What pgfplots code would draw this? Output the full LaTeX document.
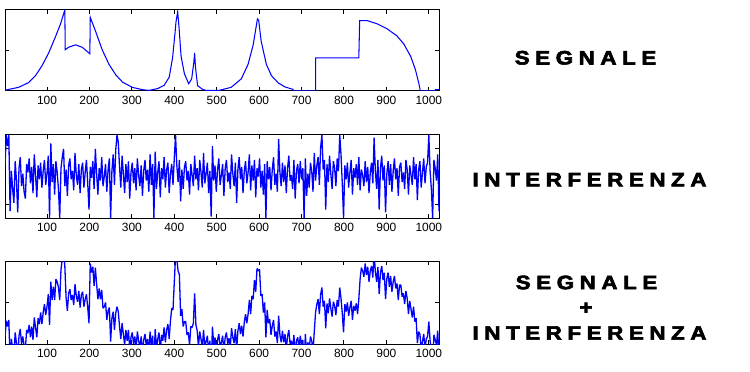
\documentclass[border=0pt]{standalone}
\usepackage{fontspec}
\setmainfont{Liberation Sans}
\newfontfamily\labfont{Liberation Sans}[LetterSpace=25,BoldFeatures={FakeBold=3}]
\usepackage{pgfplots}
\pgfplotsset{compat=1.18}
\pgfplotsset{
  mystyle/.style={
    width=434bp, scale only axis,
    xmin=1, xmax=1024,
    xtick={100,200,...,1000},
    tick align=inside, xtick pos=both, ytick pos=both,
    major tick length=4bp,
    axis line style={line width=1bp, black},
    tick style={line width=1bp, black},
    yticklabels={},
    ticklabel style={font=\fontsize{12}{12}\selectfont},
    xticklabel style={yshift=-1.5bp},
    /pgf/number format/assume math mode=true,
    /pgf/number format/1000 sep={},
  },
  sig/.style={blue, line width=1.05bp},
  noi/.style={blue, line width=1.3bp, line join=bevel},
}
\begin{document}
\begin{tikzpicture}[x=1bp,y=1bp]
\path[use as bounding box] (0,0) rectangle (750,371);
% Panel 1: SEGNALE
\begin{axis}[mystyle, at={(5bp,280bp)}, anchor=south west, height=81bp, ymin=0, ymax=1, ytick={0.5}]
\addplot[sig] coordinates {(1,0.01)(33,0.045)(57,0.105)(73,0.19)(88,0.31)(104,0.47)(120,0.67)(132,0.83)(142,1.0)
(143,0.51)(151,0.54)(167,0.57)(183,0.54)(201,0.46)(202,0.91)(215,0.73)(230,0.51)(246,0.33)(262,0.20)(278,0.11)(301,0.045)(325,0.016)(341,0.008)(361,0.03)(376,0.07)(388,0.17)(396,0.41)(402,0.73)(404,0.85)(408,0.98)(411,0.8)(416,0.43)(424,0.21)(434,0.09)(441,0.15)(446,0.35)(448,0.47)(450,0.29)(455,0.065)(467,0.02)(474,0.008)(506,0.008)(534,0.045)(558,0.15)(574,0.33)(586,0.57)(596,0.89)(599,0.87)(605,0.61)(617,0.33)(629,0.19)(645,0.10)(661,0.05)(680,0.02)(681,0)(733,0)(733,0.41)(835,0.41)(837,0.87)(854,0.87)(878,0.83)(901,0.77)(925,0.68)(941,0.58)(957,0.43)(968,0.27)(976,0.105)(980,0)(1015,0)(1016,0.016)(1024,0.016)};
\end{axis}
% Panel 2: INTERFERENZA
\begin{axis}[mystyle, at={(5bp,153bp)}, anchor=south west, height=83bp, ymin=-3, ymax=3, ytick={-2,2}]
\addplot[noi] coordinates {
(1,0.8)(4,3.0)(7,2.2)(10,3.0)(13,-2.5)(16,0.4)(19,-0.9)(22,-1.9)(25,1.1)(28,-0.3)
(31,-2.6)(34,0.6)(37,1.4)(40,-0.7)(43,0.2)(46,-1.1)(49,-1.6)(52,0.9)(55,0.3)(58,1.3)
(61,-0.5)(64,0.7)(67,-1.2)(70,1.6)(73,0.1)(76,-1.5)(79,0.8)(82,-0.2)(85,1.0)(88,-0.8)
(91,0.4)(94,1.2)(97,-0.6)(100,0.2)(103,1.5)(106,-3.0)(109,2.4)(112,-0.4)(115,0.9)(118,-1.3)
(121,1.1)(124,0.3)(127,-0.9)(130,-3.0)(133,0.6)(136,1.4)(139,2.0)(142,-0.7)(145,0.5)(148,-1.4)
(151,0.8)(154,1.3)(157,-0.2)(160,0.4)(163,-1.0)(166,1.7)(169,0.1)(172,-0.6)(175,0.9)(178,-1.2)
(181,0.5)(184,1.0)(187,-0.8)(190,0.3)(193,1.2)(196,-0.5)(199,-2.4)(202,0.7)(205,-0.1)(208,1.1)
(211,-0.9)(214,2.0)(217,0.2)(220,-1.3)(223,0.6)(226,-0.3)(229,1.4)(232,-0.7)(235,0.0)(238,0.9)
(241,-1.1)(244,0.5)(247,1.3)(250,-3.0)(253,0.4)(256,1.6)(259,-0.6)(262,1.9)(265,3.0)(268,2.5)
(271,0.7)(274,-0.8)(277,1.5)(280,0.2)(283,-1.2)(286,0.9)(289,-0.4)(292,1.1)(295,-1.6)(298,0.3)
(301,1.0)(304,-0.5)(307,0.6)(310,-1.0)(313,1.3)(316,0.1)(319,-0.7)(322,0.8)(325,-1.4)(328,0.4)
(331,1.2)(334,-0.3)(337,0.5)(340,-1.1)(343,1.6)(346,-0.6)(349,0.9)(352,-3.0)(355,1.8)(358,-0.9)
(361,0.3)(364,1.1)(367,-1.5)(370,0.6)(373,-0.2)(376,1.4)(379,-0.8)(382,0.5)(385,1.0)(388,-1.2)
(391,0.2)(394,0.9)(397,-0.6)(400,1.3)(403,3.0)(406,0.8)(409,-0.4)(412,1.2)(415,-1.8)(418,0.5)
(421,-0.9)(424,0.7)(427,1.1)(430,-0.3)(433,0.4)(436,-1.3)(439,0.9)(442,0.1)(445,-0.7)(448,1.5)
(451,-0.2)(454,0.6)(457,-1.0)(460,1.2)(463,0.3)(466,-0.8)(469,1.7)(472,-0.5)(475,0.2)(478,1.0)
(481,-1.2)(484,0.4)(487,-2.9)(490,2.2)(493,-0.3)(496,0.8)(499,-1.1)(502,0.5)(505,1.3)(508,-0.6)
(511,0.1)(514,0.9)(517,-1.4)(520,0.6)(523,1.2)(526,-0.4)(529,0.3)(532,-0.9)(535,1.6)(538,0.2)
(541,-0.7)(544,1.0)(547,-1.9)(550,0.5)(553,1.4)(556,-0.2)(559,0.7)(562,-1.2)(565,0.4)(568,1.1)
(571,-0.5)(574,0.3)(577,1.6)(580,-1.0)(583,0.8)(586,-0.3)(589,1.2)(592,-1.5)(595,0.6)(598,0.0)
(601,1.3)(604,-0.8)(607,0.4)(610,-1.3)(613,0.9)(616,-3.0)(619,1.1)(622,-0.2)(625,0.7)(628,-1.0)
(631,0.5)(634,1.4)(637,-0.6)(640,0.2)(643,-1.1)(646,2.7)(649,0.3)(652,-0.7)(655,1.0)(658,-0.4)
(661,0.8)(664,-1.2)(667,0.6)(670,1.5)(673,-0.3)(676,0.1)(679,-0.9)(682,1.2)(685,-1.6)(688,0.4)
(691,0.9)(694,-0.5)(697,1.1)(700,-0.2)(703,0.6)(706,-3.0)(709,1.3)(712,-1.4)(715,0.2)(718,-0.8)
(721,1.0)(724,0.4)(727,-1.1)(730,1.7)(733,-0.3)(736,0.8)(739,1.4)(742,-0.6)(745,2.1)(748,3.0)
(751,0.5)(754,1.2)(757,-2.4)(760,0.9)(763,-0.4)(766,1.5)(769,0.2)(772,-0.9)(775,1.1)(778,0.6)
(781,-0.7)(784,1.3)(787,0.4)(790,3.0)(793,1.6)(796,-0.5)(799,-3.0)(802,0.8)(805,-0.2)(808,1.0)
(811,-0.8)(814,0.3)(817,1.2)(820,-1.3)(823,0.6)(826,-0.1)(829,0.9)(832,-0.6)(835,1.4)(838,-1.0)
(841,0.5)(844,0.1)(847,-0.7)(850,1.1)(853,-0.4)(856,0.7)(859,-1.2)(862,0.3)(865,1.0)(868,-0.5)
(871,2.8)(874,0.4)(877,-0.9)(880,1.2)(883,-2.4)(886,0.6)(889,1.5)(892,-0.3)(895,0.8)(898,-2.6)
(901,0.2)(904,1.1)(907,-0.6)(910,0.9)(913,-1.1)(916,0.4)(919,1.3)(922,-0.2)(925,0.6)(928,-1.4)
(931,0.7)(934,1.0)(937,-0.4)(940,0.3)(943,-0.9)(946,1.2)(949,0.5)(952,-1.3)(955,0.8)(958,0.1)
(961,-0.6)(964,1.4)(967,-0.2)(970,0.9)(973,-1.7)(976,0.5)(979,1.1)(982,-0.8)(985,0.3)(988,1.3)
(991,-0.5)(994,0.7)(997,1.0)(1000,3.0)(1003,0.4)(1006,-0.9)(1009,-3.0)(1012,1.2)(1015,0.6)(1018,-0.3)
(1021,1.6)(1024,-2.5)};
\end{axis}
% Panel 3: SEGNALE + INTERFERENZA
\begin{axis}[mystyle, at={(5bp,27bp)}, anchor=south west, height=83bp, ymin=0, ymax=1, ytick={0.5}]
\addplot[noi] coordinates {
(1,0.08)(4,0.28)(7,0.21)(10,0.29)(13,-0.20)(16,0.06)(19,-0.05)(22,-0.14)(25,0.14)(28,0.01)
(31,-0.19)(34,0.10)(37,0.18)(40,0.00)(43,0.09)(46,-0.02)(49,-0.06)(52,0.17)(55,0.13)(58,0.23)
(61,0.08)(64,0.21)(67,0.05)(70,0.32)(73,0.20)(76,0.08)(79,0.31)(82,0.24)(85,0.38)(88,0.24)
(91,0.38)(94,0.48)(97,0.35)(100,0.45)(103,0.60)(106,0.23)(109,0.75)(112,0.53)(115,0.69)(118,0.53)
(121,0.78)(124,0.75)(127,0.68)(130,0.53)(133,0.90)(136,1.02)(139,1.13)(142,0.94)(145,0.56)(148,0.40)
(151,0.61)(154,0.66)(157,0.53)(160,0.59)(163,0.47)(166,0.72)(169,0.58)(172,0.51)(175,0.64)(178,0.44)
(181,0.59)(184,0.63)(187,0.45)(190,0.54)(193,0.60)(196,0.44)(199,0.25)(202,0.97)(205,0.86)(208,0.93)
(211,0.70)(214,0.92)(217,0.72)(220,0.54)(223,0.67)(226,0.54)(229,0.65)(232,0.43)(235,0.45)(238,0.50)
(241,0.29)(244,0.40)(247,0.44)(250,0.03)(253,0.31)(256,0.39)(259,0.17)(262,0.37)(265,0.45)(268,0.39)
(271,0.21)(274,0.06)(277,0.25)(280,0.12)(283,-0.01)(286,0.17)(289,0.04)(292,0.17)(295,-0.08)(298,0.08)
(301,0.14)(304,0.00)(307,0.09)(310,-0.06)(313,0.15)(316,0.04)(319,-0.04)(322,0.09)(325,-0.11)(328,0.05)
(331,0.12)(334,-0.02)(337,0.06)(340,-0.09)(343,0.15)(346,-0.04)(349,0.10)(352,-0.25)(355,0.18)(358,-0.05)
(361,0.06)(364,0.14)(367,-0.09)(370,0.11)(373,0.04)(376,0.20)(379,0.02)(382,0.17)(385,0.24)(388,0.06)
(391,0.28)(394,0.43)(397,0.41)(400,0.74)(403,1.06)(406,1.02)(409,0.88)(412,0.84)(415,0.34)(418,0.42)
(421,0.21)(424,0.27)(427,0.27)(430,0.11)(433,0.14)(436,-0.01)(439,0.21)(442,0.20)(445,0.25)(448,0.61)
(451,0.23)(454,0.16)(457,-0.03)(460,0.15)(463,0.06)(466,-0.05)(469,0.17)(472,-0.03)(475,0.03)(478,0.10)
(481,-0.10)(484,0.04)(487,-0.25)(490,0.21)(493,-0.02)(496,0.08)(499,-0.09)(502,0.05)(505,0.12)(508,-0.04)
(511,0.02)(514,0.10)(517,-0.10)(520,0.08)(523,0.14)(526,0.00)(529,0.07)(532,-0.04)(535,0.19)(538,0.08)
(541,0.01)(544,0.18)(547,-0.07)(550,0.16)(553,0.25)(556,0.12)(559,0.22)(562,0.09)(565,0.26)(568,0.36)
(571,0.25)(574,0.36)(577,0.53)(580,0.36)(583,0.58)(586,0.54)(589,0.77)(592,0.63)(595,0.91)(598,0.88)
(601,0.90)(604,0.58)(607,0.60)(610,0.38)(613,0.50)(616,0.08)(619,0.41)(622,0.25)(625,0.30)(628,0.11)
(631,0.22)(634,0.29)(637,0.09)(640,0.15)(643,0.01)(646,0.34)(649,0.11)(652,0.02)(655,0.16)(658,0.02)
(661,0.12)(664,-0.06)(667,0.09)(670,0.17)(673,0.00)(676,0.04)(679,-0.06)(682,0.11)(685,-0.14)(688,0.04)
(691,0.08)(694,-0.05)(697,0.10)(700,-0.02)(703,0.05)(706,-0.27)(709,0.12)(712,-0.13)(715,0.02)(718,-0.07)
(721,0.09)(724,0.04)(727,-0.10)(730,0.15)(733,0.38)(736,0.48)(739,0.54)(742,0.36)(745,0.60)(748,0.68)
(751,0.45)(754,0.52)(757,0.19)(760,0.49)(763,0.37)(766,0.55)(769,0.43)(772,0.33)(775,0.51)(778,0.46)
(781,0.35)(784,0.53)(787,0.45)(790,0.68)(793,0.55)(796,0.37)(799,0.14)(802,0.48)(805,0.39)(808,0.50)
(811,0.34)(814,0.44)(817,0.52)(820,0.29)(823,0.46)(826,0.40)(829,0.49)(832,0.36)(835,0.54)(838,0.78)
(841,0.92)(844,0.88)(847,0.81)(850,0.97)(853,0.83)(856,0.93)(859,0.75)(862,0.88)(865,0.94)(868,0.80)
(871,1.09)(874,0.87)(877,0.75)(880,0.93)(883,0.60)(886,0.86)(889,0.94)(892,0.77)(895,0.86)(898,0.54)
(901,0.79)(904,0.86)(907,0.69)(910,0.82)(913,0.63)(916,0.75)(919,0.82)(922,0.67)(925,0.73)(928,0.53)
(931,0.71)(934,0.71)(937,0.57)(940,0.61)(943,0.48)(946,0.64)(949,0.55)(952,0.36)(955,0.52)(958,0.42)
(961,0.32)(964,0.45)(967,0.27)(970,0.31)(973,0.01)(976,0.15)(979,0.12)(982,-0.07)(985,0.03)(988,0.12)
(991,-0.05)(994,0.06)(997,0.09)(1000,0.27)(1003,0.04)(1006,-0.08)(1009,-0.27)(1012,0.11)(1015,0.05)(1018,-0.01)
(1021,0.16)(1024,-0.21)};
\end{axis}
% Right-hand labels
\begin{scope}[every node/.style={font=\labfont\bfseries\fontsize{19.5}{20}\selectfont, inner sep=0pt, xscale=1.15, transform shape}]
\node at (585.5,313.2) {SEGNALE};
\node at (589.5,191.3) {INTERFERENZA};
\node at (586.5,88.5) {SEGNALE};
\node at (586,62.7) {+};
\node at (589.5,38) {INTERFERENZA};
\end{scope}
\end{tikzpicture}
\end{document}
